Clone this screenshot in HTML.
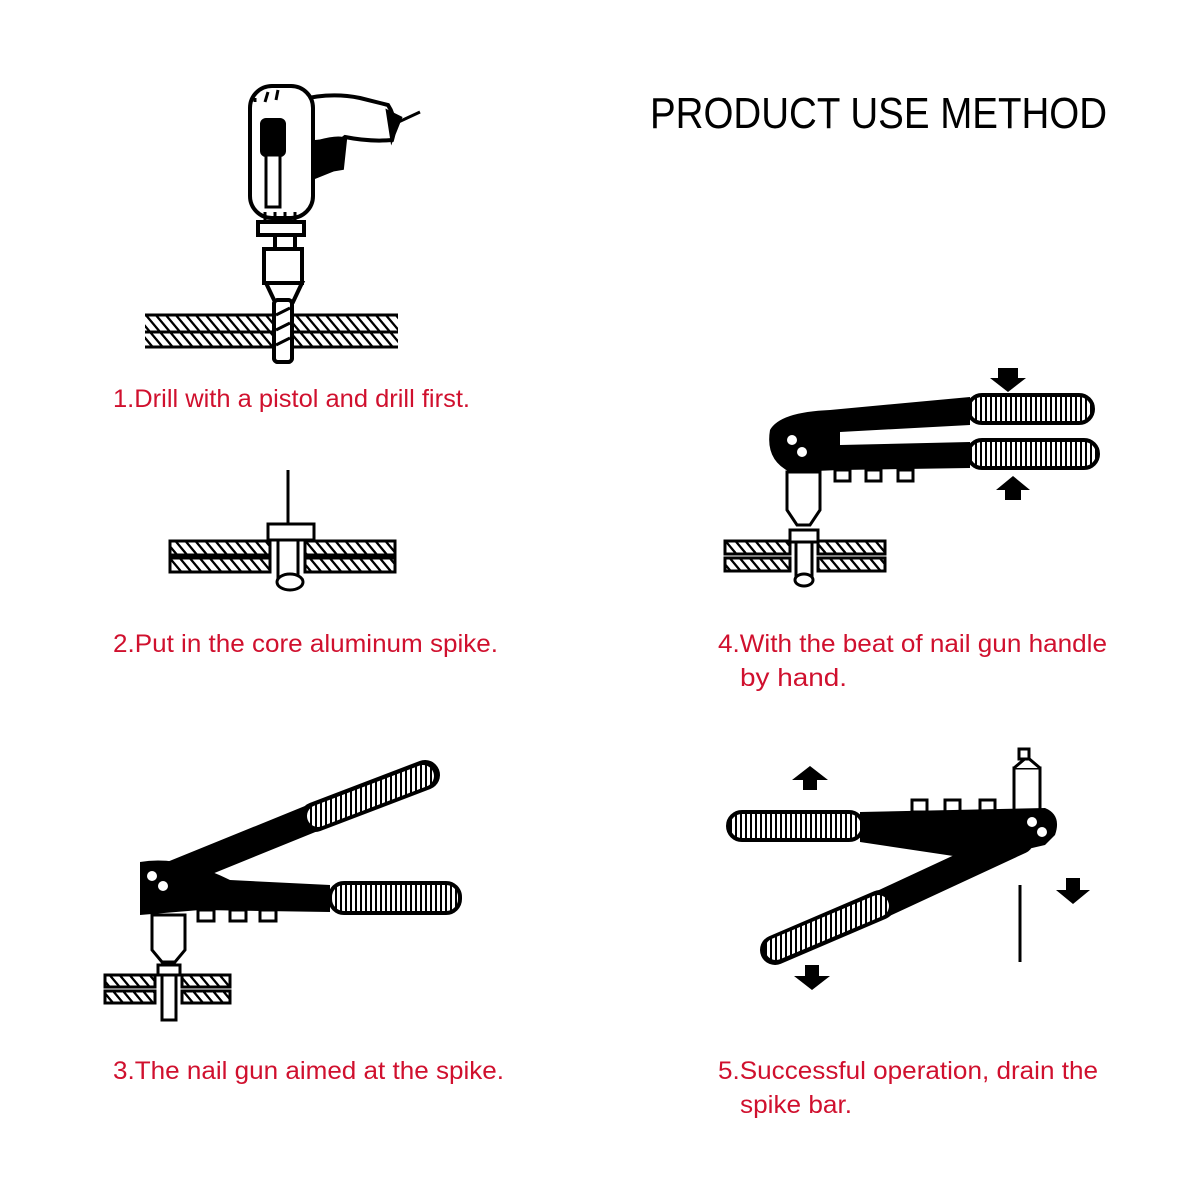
<!DOCTYPE html>
<html><head><meta charset="utf-8"><style>
html,body{margin:0;padding:0;background:#fff;width:1200px;height:1200px;overflow:hidden}
svg{display:block}
.r{fill:#d0102e;font-family:"Liberation Sans",sans-serif;font-size:25px}
</style></head><body>
<svg width="1200" height="1200" viewBox="0 0 1200 1200" xmlns="http://www.w3.org/2000/svg">
<defs>
<pattern id="h" width="10" height="20" patternUnits="userSpaceOnUse" patternTransform="skewX(40)">
<rect width="10" height="20" fill="#fff"/><rect width="3" height="20" fill="#000"/></pattern>
<pattern id="g" width="5" height="30" patternUnits="userSpaceOnUse">
<rect width="5" height="30" fill="#fff"/><rect width="2" height="30" fill="#000"/></pattern>
</defs>
<text x="650" y="128" font-family="Liberation Sans,sans-serif" font-size="44" textLength="457" lengthAdjust="spacingAndGlyphs">PRODUCT USE METHOD</text>

<!-- Drill -->
<g fill="#fff" stroke="#000" stroke-width="4">
<path d="M300 100 Q330 92 360 98 L388 105 Q398 120 392 140 Q370 142 345 137 L335 145 L332 170 L312 178 L312 135 Z"/>
<path d="M345 137 L335 145 L332 170 L315 176 L315 140 Z" fill="#000" stroke="none"/>
<path d="M318 142 Q340 136 345 140 L342 168 L318 172 Z" fill="#000"/>
<rect x="250" y="86" width="63" height="132" rx="22"/>
<line x1="392" y1="125" x2="420" y2="112" stroke-width="3"/>
<path d="M388 112 L400 118 L392 138 Z" fill="#000"/>
<rect x="262" y="120" width="22" height="35" rx="4" fill="#000"/>
<rect x="266" y="155" width="14" height="52" stroke-width="3"/>
<rect x="258" y="222" width="46" height="13"/>
<rect x="275" y="235" width="20" height="14"/>
<rect x="264" y="249" width="38" height="34"/>
<path d="M266 283 L302 283 L293 302 L275 302 Z"/>
<rect x="274" y="300" width="18" height="62" rx="4"/>
</g>
<g stroke="#000" stroke-width="3">
<line x1="255" y1="98" x2="255" y2="102"/>
<line x1="268" y1="92" x2="265" y2="102"/><line x1="278" y1="90" x2="276" y2="100"/>
<line x1="265" y1="212" x2="265" y2="222"/><line x1="275" y1="212" x2="275" y2="222"/><line x1="285" y1="212" x2="285" y2="222"/><line x1="295" y1="212" x2="295" y2="222"/>
</g>
<rect x="145" y="315" width="253" height="16" fill="url(#h)"/>
<rect x="145" y="333" width="253" height="14" fill="url(#h)"/>
<g stroke="#000" stroke-width="3"><line x1="145" y1="315" x2="398" y2="315"/><line x1="145" y1="332" x2="398" y2="332"/><line x1="145" y1="347" x2="398" y2="347"/></g>
<rect x="274" y="300" width="18" height="62" rx="4" fill="#fff" stroke="#000" stroke-width="4"/>
<g stroke="#000" stroke-width="3"><line x1="276" y1="315" x2="290" y2="308"/><line x1="276" y1="330" x2="290" y2="323"/><line x1="276" y1="345" x2="290" y2="338"/></g>
<text class="r" x="113" y="407" textLength="357" lengthAdjust="spacingAndGlyphs">1.Drill with a pistol and drill first.</text>

<!-- Step 2 -->
<line x1="288" y1="470" x2="288" y2="525" stroke="#000" stroke-width="3"/>
<rect x="268" y="524" width="46" height="16" fill="#fff" stroke="#000" stroke-width="3"/>
<rect x="170" y="541" width="100" height="14" fill="url(#h)" stroke="#000" stroke-width="3"/>
<rect x="170" y="558" width="100" height="14" fill="url(#h)" stroke="#000" stroke-width="3"/>
<rect x="305" y="541" width="90" height="14" fill="url(#h)" stroke="#000" stroke-width="3"/>
<rect x="305" y="558" width="90" height="14" fill="url(#h)" stroke="#000" stroke-width="3"/>
<rect x="278" y="540" width="20" height="38" fill="#fff" stroke="#000" stroke-width="3"/>
<ellipse cx="290" cy="582" rx="13" ry="8" fill="#fff" stroke="#000" stroke-width="3"/>
<text class="r" x="113" y="652" textLength="385" lengthAdjust="spacingAndGlyphs">2.Put in the core aluminum spike.</text>

<!-- Step 3 -->
<line x1="160" y1="880" x2="320" y2="815" stroke="#000" stroke-width="28" stroke-linecap="round"/>
<line x1="315" y1="817" x2="425" y2="775" stroke="#000" stroke-width="30" stroke-linecap="round"/>
<line x1="318" y1="816" x2="423" y2="776" stroke="url(#g)" stroke-width="22" stroke-linecap="round"/>
<path d="M140 862 Q180 855 230 880 L330 885 L330 912 L200 910 L140 915 Z" fill="#000"/>
<rect x="330" y="883" width="130" height="30" rx="14" fill="url(#g)" stroke="#000" stroke-width="4"/>
<circle cx="152" cy="876" r="5" fill="#fff"/><circle cx="163" cy="886" r="5" fill="#fff"/>
<g fill="#fff" stroke="#000" stroke-width="3">
<rect x="198" y="910" width="16" height="11"/><rect x="230" y="910" width="16" height="11"/><rect x="260" y="910" width="16" height="11"/>
<path d="M152 915 L185 915 L185 950 L175 962 L162 962 L152 950 Z"/>
</g>
<rect x="105" y="975" width="50" height="12" fill="url(#h)" stroke="#000" stroke-width="3"/>
<rect x="105" y="991" width="50" height="12" fill="url(#h)" stroke="#000" stroke-width="3"/>
<rect x="182" y="975" width="48" height="12" fill="url(#h)" stroke="#000" stroke-width="3"/>
<rect x="182" y="991" width="48" height="12" fill="url(#h)" stroke="#000" stroke-width="3"/>
<rect x="158" y="965" width="22" height="10" fill="#fff" stroke="#000" stroke-width="3"/>
<rect x="162" y="975" width="14" height="45" fill="#fff" stroke="#000" stroke-width="3"/>
<text class="r" x="113" y="1079" textLength="391" lengthAdjust="spacingAndGlyphs">3.The nail gun aimed at the spike.</text>

<!-- Step 4 -->
<path d="M770 430 Q780 412 830 410 L970 397 L970 425 L840 432 L840 445 L970 442 L970 468 L840 470 L790 472 Q765 460 770 430 Z" fill="#000"/>
<rect x="968" y="395" width="125" height="28" rx="14" fill="url(#g)" stroke="#000" stroke-width="4"/>
<rect x="968" y="440" width="130" height="28" rx="14" fill="url(#g)" stroke="#000" stroke-width="4"/>
<circle cx="792" cy="440" r="5" fill="#fff"/><circle cx="802" cy="452" r="5" fill="#fff"/>
<g fill="#fff" stroke="#000" stroke-width="3">
<rect x="835" y="470" width="15" height="11"/><rect x="866" y="470" width="15" height="11"/><rect x="898" y="470" width="15" height="11"/>
<path d="M787 472 L820 472 L820 510 L810 525 L797 525 L787 510 Z"/>
</g>
<path d="M998 368 L1018 368 L1018 378 L1026 378 L1008 392 L990 378 L998 378 Z" fill="#000"/>
<path d="M1005 500 L1021 500 L1021 490 L1030 490 L1013 476 L996 490 L1005 490 Z" fill="#000"/>
<rect x="725" y="541" width="65" height="13" fill="url(#h)" stroke="#000" stroke-width="3"/>
<rect x="725" y="558" width="65" height="13" fill="url(#h)" stroke="#000" stroke-width="3"/>
<rect x="818" y="541" width="67" height="13" fill="url(#h)" stroke="#000" stroke-width="3"/>
<rect x="818" y="558" width="67" height="13" fill="url(#h)" stroke="#000" stroke-width="3"/>
<rect x="790" y="530" width="28" height="12" fill="#fff" stroke="#000" stroke-width="3"/>
<rect x="796" y="542" width="16" height="35" fill="#fff" stroke="#000" stroke-width="3"/>
<ellipse cx="804" cy="580" rx="9" ry="6" fill="#fff" stroke="#000" stroke-width="3"/>
<text class="r" x="718" y="652" textLength="389" lengthAdjust="spacingAndGlyphs">4.With the beat of nail gun handle</text>
<text class="r" x="740" y="686" textLength="107" lengthAdjust="spacingAndGlyphs">by  hand.</text>

<!-- Step 5 -->
<g fill="#fff" stroke="#000" stroke-width="3">
<rect x="1014" y="768" width="26" height="45"/>
<path d="M1014 768 L1027 757 L1040 768"/>
<rect x="1019" y="749" width="10" height="10"/>
<rect x="912" y="800" width="15" height="12"/><rect x="945" y="800" width="15" height="12"/><rect x="980" y="800" width="15" height="12"/>
</g>
<path d="M860 812 L1045 808 Q1062 815 1055 835 L1045 845 L980 860 L880 845 L860 842 Z" fill="#000"/>
<line x1="1020" y1="840" x2="880" y2="905" stroke="#000" stroke-width="28" stroke-linecap="round"/>
<rect x="728" y="812" width="135" height="28" rx="14" fill="url(#g)" stroke="#000" stroke-width="4"/>
<line x1="880" y1="905" x2="775" y2="950" stroke="#000" stroke-width="30" stroke-linecap="round"/>
<line x1="878" y1="906" x2="776" y2="949" stroke="url(#g)" stroke-width="22" stroke-linecap="round"/>
<circle cx="1032" cy="822" r="5" fill="#fff"/><circle cx="1042" cy="832" r="5" fill="#fff"/>
<line x1="1020" y1="885" x2="1020" y2="962" stroke="#000" stroke-width="3"/>
<path d="M803 790 L817 790 L817 780 L828 780 L810 766 L792 780 L803 780 Z" fill="#000"/>
<path d="M1066 878 L1080 878 L1080 890 L1090 890 L1073 904 L1056 890 L1066 890 Z" fill="#000"/>
<path d="M805 965 L819 965 L819 976 L830 976 L812 990 L794 976 L805 976 Z" fill="#000"/>
<text class="r" x="718" y="1079" textLength="380" lengthAdjust="spacingAndGlyphs">5.Successful operation, drain the</text>
<text class="r" x="740" y="1113" textLength="112" lengthAdjust="spacingAndGlyphs">spike bar.</text>
</svg>
</body></html>
